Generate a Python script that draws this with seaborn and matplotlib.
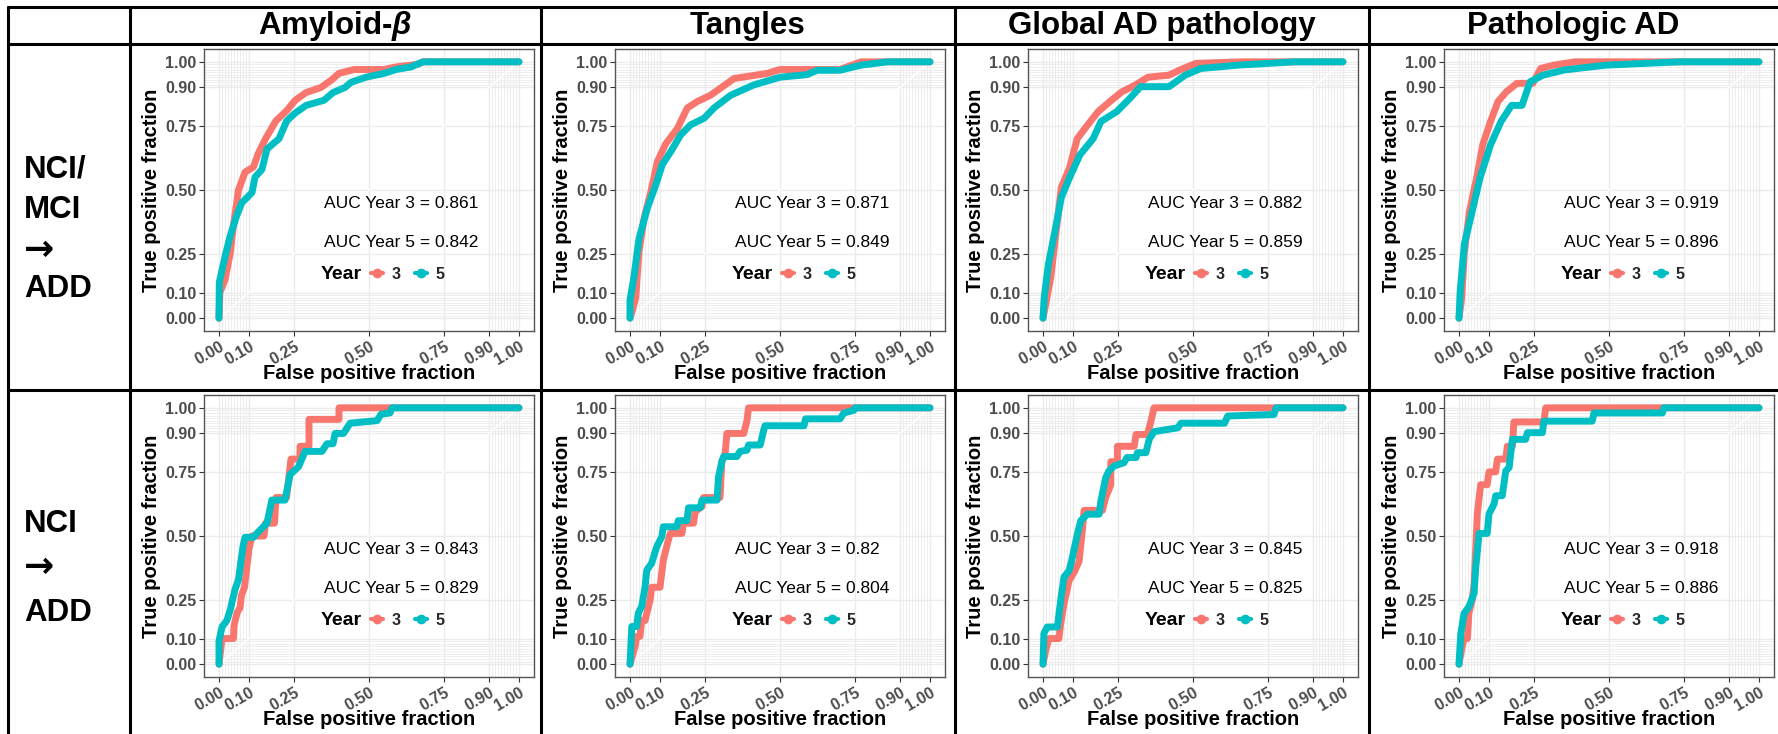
import numpy as np
import pandas as pd
import matplotlib
matplotlib.use("Agg")
import matplotlib.pyplot as plt
import seaborn as sns
from matplotlib.lines import Line2D

# ---------------- data ----------------
col_titles = ["Amyloid-$\\beta$", "Tangles", "Global AD pathology", "Pathologic AD"]
row_labels = [["NCI/", "MCI", "\u2192", "ADD"], ["NCI", "\u2192", "ADD"]]
years = ["3", "5"]
auc_year3 = [[0.861, 0.871, 0.882, 0.919], [0.843, 0.82, 0.845, 0.918]]
auc_year5 = [[0.842, 0.849, 0.859, 0.896], [0.829, 0.804, 0.825, 0.886]]
tick_breaks = [0.0, 0.10, 0.25, 0.50, 0.75, 0.90, 1.00]
tick_labels = ["0.00", "0.10", "0.25", "0.50", "0.75", "0.90", "1.00"]

# Row 1 (NCI/MCI -> ADD)
fpr_r1c1_y3 = [0, 0.003, 0.02, 0.037, 0.048, 0.065, 0.087, 0.115, 0.13, 0.155, 0.19, 0.226, 0.254, 0.29, 0.34, 0.376, 0.40, 0.45, 0.55, 0.59, 0.66, 0.68, 1.0]
tpr_r1c1_y3 = [0, 0.10, 0.15, 0.25, 0.36, 0.50, 0.57, 0.59, 0.64, 0.70, 0.77, 0.81, 0.85, 0.88, 0.90, 0.93, 0.955, 0.97, 0.97, 0.98, 0.99, 1.0, 1.0]
fpr_r1c1_y5 = [0, 0.001, 0.02, 0.037, 0.059, 0.076, 0.11, 0.12, 0.143, 0.16, 0.20, 0.226, 0.254, 0.29, 0.35, 0.38, 0.42, 0.44, 0.49, 0.55, 0.59, 0.64, 0.68, 1.0]
tpr_r1c1_y5 = [0, 0.14, 0.24, 0.32, 0.40, 0.45, 0.49, 0.55, 0.58, 0.66, 0.70, 0.77, 0.80, 0.83, 0.85, 0.88, 0.90, 0.92, 0.94, 0.955, 0.97, 0.98, 1.0, 1.0]

fpr_r1c2_y3 = [0, 0.008, 0.019, 0.03, 0.047, 0.069, 0.091, 0.119, 0.158, 0.191, 0.224, 0.269, 0.30, 0.347, 0.458, 0.50, 0.70, 0.77, 1.0]
tpr_r1c2_y3 = [0, 0.03, 0.08, 0.26, 0.39, 0.49, 0.61, 0.68, 0.74, 0.82, 0.845, 0.87, 0.896, 0.935, 0.955, 0.97, 0.97, 1.0, 1.0]
fpr_r1c2_y5 = [0, 0.0, 0.013, 0.03, 0.058, 0.086, 0.108, 0.136, 0.169, 0.202, 0.247, 0.28, 0.336, 0.413, 0.50, 0.59, 0.624, 0.70, 0.77, 0.858, 1.0]
tpr_r1c2_y5 = [0, 0.07, 0.16, 0.31, 0.43, 0.52, 0.60, 0.65, 0.715, 0.754, 0.78, 0.82, 0.87, 0.91, 0.94, 0.95, 0.967, 0.967, 0.987, 1.0, 1.0]

fpr_r1c3_y3 = [0, 0.009, 0.026, 0.044, 0.061, 0.088, 0.114, 0.149, 0.184, 0.228, 0.263, 0.307, 0.35, 0.42, 0.456, 0.51, 0.667, 1.0]
tpr_r1c3_y3 = [0, 0.054, 0.16, 0.34, 0.51, 0.585, 0.70, 0.754, 0.806, 0.85, 0.883, 0.909, 0.94, 0.948, 0.968, 0.994, 1.0, 1.0]
fpr_r1c3_y5 = [0, 0.004, 0.018, 0.044, 0.061, 0.088, 0.123, 0.167, 0.193, 0.246, 0.29, 0.325, 0.42, 0.474, 0.526, 0.65, 0.84, 1.0]
tpr_r1c3_y5 = [0, 0.08, 0.21, 0.365, 0.47, 0.547, 0.637, 0.70, 0.767, 0.806, 0.858, 0.903, 0.903, 0.948, 0.974, 0.987, 1.0, 1.0]

fpr_r1c4_y3 = [0, 0.009, 0.018, 0.035, 0.061, 0.079, 0.105, 0.13, 0.158, 0.193, 0.246, 0.272, 0.316, 0.386, 1.0]
tpr_r1c4_y3 = [0, 0.08, 0.26, 0.417, 0.56, 0.676, 0.767, 0.845, 0.883, 0.916, 0.916, 0.974, 0.987, 1.0, 1.0]
fpr_r1c4_y5 = [0, 0.004, 0.018, 0.044, 0.07, 0.105, 0.14, 0.175, 0.21, 0.237, 0.28, 0.35, 0.49, 0.737, 1.0]
tpr_r1c4_y5 = [0, 0.106, 0.29, 0.417, 0.547, 0.676, 0.767, 0.83, 0.83, 0.922, 0.948, 0.968, 0.987, 1.0, 1.0]

# Row 2 (NCI -> ADD)
fpr_r2c1_y3 = [0, 0.005, 0.01, 0.048, 0.05, 0.06, 0.07, 0.075, 0.085, 0.09, 0.10, 0.11, 0.15, 0.155, 0.185, 0.19, 0.225, 0.23, 0.24, 0.27, 0.27, 0.30, 0.30, 0.40, 0.40, 1.0]
tpr_r2c1_y3 = [0, 0.05, 0.10, 0.10, 0.15, 0.20, 0.22, 0.27, 0.30, 0.35, 0.45, 0.50, 0.50, 0.55, 0.55, 0.65, 0.65, 0.70, 0.80, 0.80, 0.85, 0.85, 0.955, 0.955, 1.0, 1.0]
fpr_r2c1_y5 = [0, 0.0, 0.01, 0.026, 0.037, 0.053, 0.065, 0.08, 0.087, 0.115, 0.13, 0.16, 0.176, 0.22, 0.237, 0.265, 0.287, 0.343, 0.36, 0.38, 0.387, 0.415, 0.437, 0.527, 0.54, 0.57, 0.577, 1.0]
tpr_r2c1_y5 = [0, 0.09, 0.145, 0.17, 0.21, 0.29, 0.33, 0.46, 0.495, 0.495, 0.515, 0.55, 0.64, 0.64, 0.74, 0.77, 0.83, 0.83, 0.86, 0.86, 0.90, 0.90, 0.94, 0.95, 0.975, 0.98, 1.0, 1.0]

fpr_r2c2_y3 = [0, 0.017, 0.022, 0.033, 0.039, 0.05, 0.067, 0.072, 0.10, 0.111, 0.122, 0.134, 0.173, 0.178, 0.212, 0.217, 0.24, 0.245, 0.30, 0.306, 0.317, 0.323, 0.379, 0.39, 0.395, 1.0]
tpr_r2c2_y3 = [0, 0.07, 0.108, 0.108, 0.17, 0.17, 0.25, 0.30, 0.30, 0.405, 0.458, 0.51, 0.51, 0.55, 0.55, 0.595, 0.615, 0.65, 0.65, 0.79, 0.82, 0.90, 0.90, 0.95, 1.0, 1.0]
fpr_r2c2_y5 = [0, 0.006, 0.022, 0.028, 0.039, 0.05, 0.056, 0.072, 0.089, 0.106, 0.111, 0.156, 0.161, 0.19, 0.195, 0.234, 0.24, 0.29, 0.295, 0.306, 0.312, 0.356, 0.367, 0.39, 0.395, 0.434, 0.445, 0.45, 0.58, 0.585, 0.70, 0.713, 0.746, 0.75, 1.0]
tpr_r2c2_y5 = [0, 0.147, 0.147, 0.20, 0.225, 0.30, 0.367, 0.393, 0.458, 0.497, 0.536, 0.536, 0.56, 0.56, 0.61, 0.61, 0.64, 0.64, 0.73, 0.79, 0.81, 0.81, 0.83, 0.835, 0.855, 0.855, 0.91, 0.93, 0.93, 0.957, 0.957, 0.98, 0.99, 1.0, 1.0]

fpr_r2c3_y3 = [0, 0.009, 0.02, 0.053, 0.059, 0.07, 0.087, 0.104, 0.12, 0.131, 0.137, 0.198, 0.209, 0.226, 0.226, 0.248, 0.248, 0.304, 0.31, 0.348, 0.36, 0.37, 1.0]
tpr_r2c3_y3 = [0, 0.054, 0.10, 0.10, 0.158, 0.236, 0.326, 0.359, 0.40, 0.52, 0.60, 0.60, 0.65, 0.70, 0.79, 0.79, 0.85, 0.85, 0.896, 0.896, 0.948, 1.0, 1.0]
fpr_r2c3_y5 = [0, 0.003, 0.014, 0.048, 0.059, 0.07, 0.087, 0.098, 0.115, 0.126, 0.148, 0.187, 0.193, 0.209, 0.22, 0.237, 0.27, 0.28, 0.31, 0.315, 0.343, 0.354, 0.37, 0.449, 0.46, 0.605, 0.616, 0.77, 0.777, 1.0]
tpr_r2c3_y5 = [0, 0.12, 0.145, 0.145, 0.25, 0.34, 0.365, 0.417, 0.51, 0.56, 0.585, 0.585, 0.637, 0.728, 0.754, 0.773, 0.786, 0.806, 0.806, 0.825, 0.825, 0.877, 0.907, 0.922, 0.94, 0.94, 0.968, 0.974, 1.0, 1.0]

fpr_r2c4_y3 = [0, 0.011, 0.017, 0.028, 0.033, 0.044, 0.05, 0.056, 0.061, 0.072, 0.094, 0.10, 0.122, 0.128, 0.156, 0.161, 0.178, 0.183, 0.283, 0.289, 1.0]
tpr_r2c4_y3 = [0, 0.07, 0.10, 0.10, 0.20, 0.25, 0.31, 0.457, 0.586, 0.70, 0.70, 0.75, 0.75, 0.80, 0.80, 0.85, 0.85, 0.945, 0.945, 1.0, 1.0]
fpr_r2c4_y5 = [0, 0.006, 0.017, 0.033, 0.05, 0.056, 0.067, 0.094, 0.10, 0.117, 0.122, 0.144, 0.156, 0.167, 0.178, 0.222, 0.228, 0.278, 0.283, 0.444, 0.45, 0.678, 0.683, 1.0]
tpr_r2c4_y5 = [0, 0.12, 0.198, 0.224, 0.276, 0.38, 0.51, 0.51, 0.586, 0.625, 0.657, 0.657, 0.754, 0.767, 0.877, 0.877, 0.903, 0.903, 0.948, 0.948, 0.98, 0.98, 1.0, 1.0]

curves = {
    (0, 0): [(fpr_r1c1_y3, tpr_r1c1_y3), (fpr_r1c1_y5, tpr_r1c1_y5)],
    (0, 1): [(fpr_r1c2_y3, tpr_r1c2_y3), (fpr_r1c2_y5, tpr_r1c2_y5)],
    (0, 2): [(fpr_r1c3_y3, tpr_r1c3_y3), (fpr_r1c3_y5, tpr_r1c3_y5)],
    (0, 3): [(fpr_r1c4_y3, tpr_r1c4_y3), (fpr_r1c4_y5, tpr_r1c4_y5)],
    (1, 0): [(fpr_r2c1_y3, tpr_r2c1_y3), (fpr_r2c1_y5, tpr_r2c1_y5)],
    (1, 1): [(fpr_r2c2_y3, tpr_r2c2_y3), (fpr_r2c2_y5, tpr_r2c2_y5)],
    (1, 2): [(fpr_r2c3_y3, tpr_r2c3_y3), (fpr_r2c3_y5, tpr_r2c3_y5)],
    (1, 3): [(fpr_r2c4_y3, tpr_r2c4_y3), (fpr_r2c4_y5, tpr_r2c4_y5)],
}

# ---------------- style ----------------
sns.set_theme(style="white")
plt.rcParams["font.family"] = ["Liberation Sans", "DejaVu Sans"]
plt.rcParams["mathtext.fontset"] = "custom"
plt.rcParams["mathtext.it"] = "Liberation Sans:italic:bold"
plt.rcParams["mathtext.rm"] = "Liberation Sans:bold"
plt.rcParams["mathtext.bf"] = "Liberation Sans:bold"

palette = {"3": "#F8766D", "5": "#00BFC4"}
W, H = 1778, 734
fig = plt.figure(figsize=(W / 100, H / 100), dpi=100)
fig.patch.set_facecolor("white")


def fx(px):
    return px / W


def fy(py):
    return 1 - py / H


ax_left = [204, 615, 1028, 1444]
ax_top = [49, 395]
ax_w, ax_h = 330, 282
minor = list(np.round(np.r_[np.arange(0.01, 0.1, 0.01), np.arange(0.91, 1.0, 0.01)], 2))

for r in range(2):
    for c in range(4):
        ax = fig.add_axes([fx(ax_left[c]), fy(ax_top[r] + ax_h), ax_w / W, ax_h / H])
        rows = []
        for yr, (fp, tp) in zip(years, curves[(r, c)]):
            for i, (a, b) in enumerate(zip(fp, tp)):
                rows.append({"fpr": a, "tpr": b, "Year": yr, "order": i})
        df = pd.DataFrame(rows)
        ax.plot([0, 1], [0, 1], color="white", lw=1.0, zorder=1.5)
        sns.lineplot(data=df, x="fpr", y="tpr", hue="Year", hue_order=years,
                     palette=palette, sort=False, estimator=None, lw=5.0,
                     legend=False, ax=ax, zorder=3,
                     solid_capstyle="round", solid_joinstyle="round")
        ax.set_xlim(-0.05, 1.05)
        ax.set_ylim(-0.05, 1.05)
        ax.set_xticks(tick_breaks)
        ax.set_yticks(tick_breaks)
        ax.set_xticks(minor, minor=True)
        ax.set_yticks(minor, minor=True)
        ax.set_xticklabels(tick_labels, rotation=30, ha="right", va="top",
                           rotation_mode="anchor", fontsize=11.5, fontweight="bold",
                           color="#4D4D4D")
        ax.set_yticklabels(tick_labels, fontsize=11.5, fontweight="bold", color="#4D4D4D")
        ax.tick_params(axis="both", which="major", length=3.5, width=0.8,
                       color="#333333", pad=2, bottom=True, left=True)
        ax.tick_params(axis="both", which="minor", length=0, bottom=False, left=False)
        ax.grid(True, which="major", color="#EBEBEB", lw=1.0, zorder=0)
        ax.grid(True, which="minor", color="#EBEBEB", lw=0.6, zorder=0)
        ax.set_axisbelow(True)
        for s in ax.spines.values():
            s.set_color("#555555")
            s.set_linewidth(1.0)
        ax.set_xlabel("False positive fraction", fontsize=14.5, fontweight="bold",
                      color="black", labelpad=-2)
        ax.set_ylabel("True positive fraction", fontsize=14.5, fontweight="bold",
                      color="black", labelpad=3)
        ax.text(0.35, 0.447, f"AUC Year 3 = {auc_year3[r][c]}", fontsize=12.5,
                ha="left", va="center", color="black", zorder=5)
        ax.text(0.35, 0.296, f"AUC Year 5 = {auc_year5[r][c]}", fontsize=12.5,
                ha="left", va="center", color="black", zorder=5)
        ax.text(0.34, 0.172, "Year", fontsize=14, fontweight="bold",
                ha="left", va="center", color="black", zorder=5)
        handles = [Line2D([], [], color=palette[y], lw=3, marker="o", markersize=6)
                   for y in years]
        ax.legend(handles, years, ncol=2, loc="center left",
                  bbox_to_anchor=(0.505, 0.172), bbox_transform=ax.transData,
                  frameon=False, handlelength=0.8, handletextpad=0.5,
                  columnspacing=0.9, borderpad=0, borderaxespad=0,
                  prop={"weight": "bold", "size": 11.5})

# ---------------- table frame ----------------
vlines = [8, 130, 541, 955, 1369]
for x in vlines:
    fig.add_artist(Line2D([fx(x), fx(x)], [fy(7), fy(734)], color="black", lw=2.2,
                          transform=fig.transFigure))
for y in [7, 44, 390]:
    fig.add_artist(Line2D([fx(8), fx(1778)], [fy(y), fy(y)], color="black", lw=2.2,
                          transform=fig.transFigure))

col_centers = [335.5, 748, 1162, 1573]
for cx, t in zip(col_centers, col_titles):
    fig.text(fx(cx), fy(26), t, fontsize=22.5, fontweight="bold", ha="center",
             va="center", color="black")

row_line_y = [[170, 210, 250, 289], [524, 567, 613]]
for lines, ys in zip(row_labels, row_line_y):
    for t, yy in zip(lines, ys):
        if t == "\u2192":
            fig.text(fx(24), fy(yy), t, fontsize=26, fontweight="bold", ha="left",
                     va="center", color="black", family=["DejaVu Sans"])
        else:
            fig.text(fx(24), fy(yy), t, fontsize=22.5, fontweight="bold", ha="left",
                     va="center", color="black")

fig.savefig("out.png", dpi=100, facecolor="white")
